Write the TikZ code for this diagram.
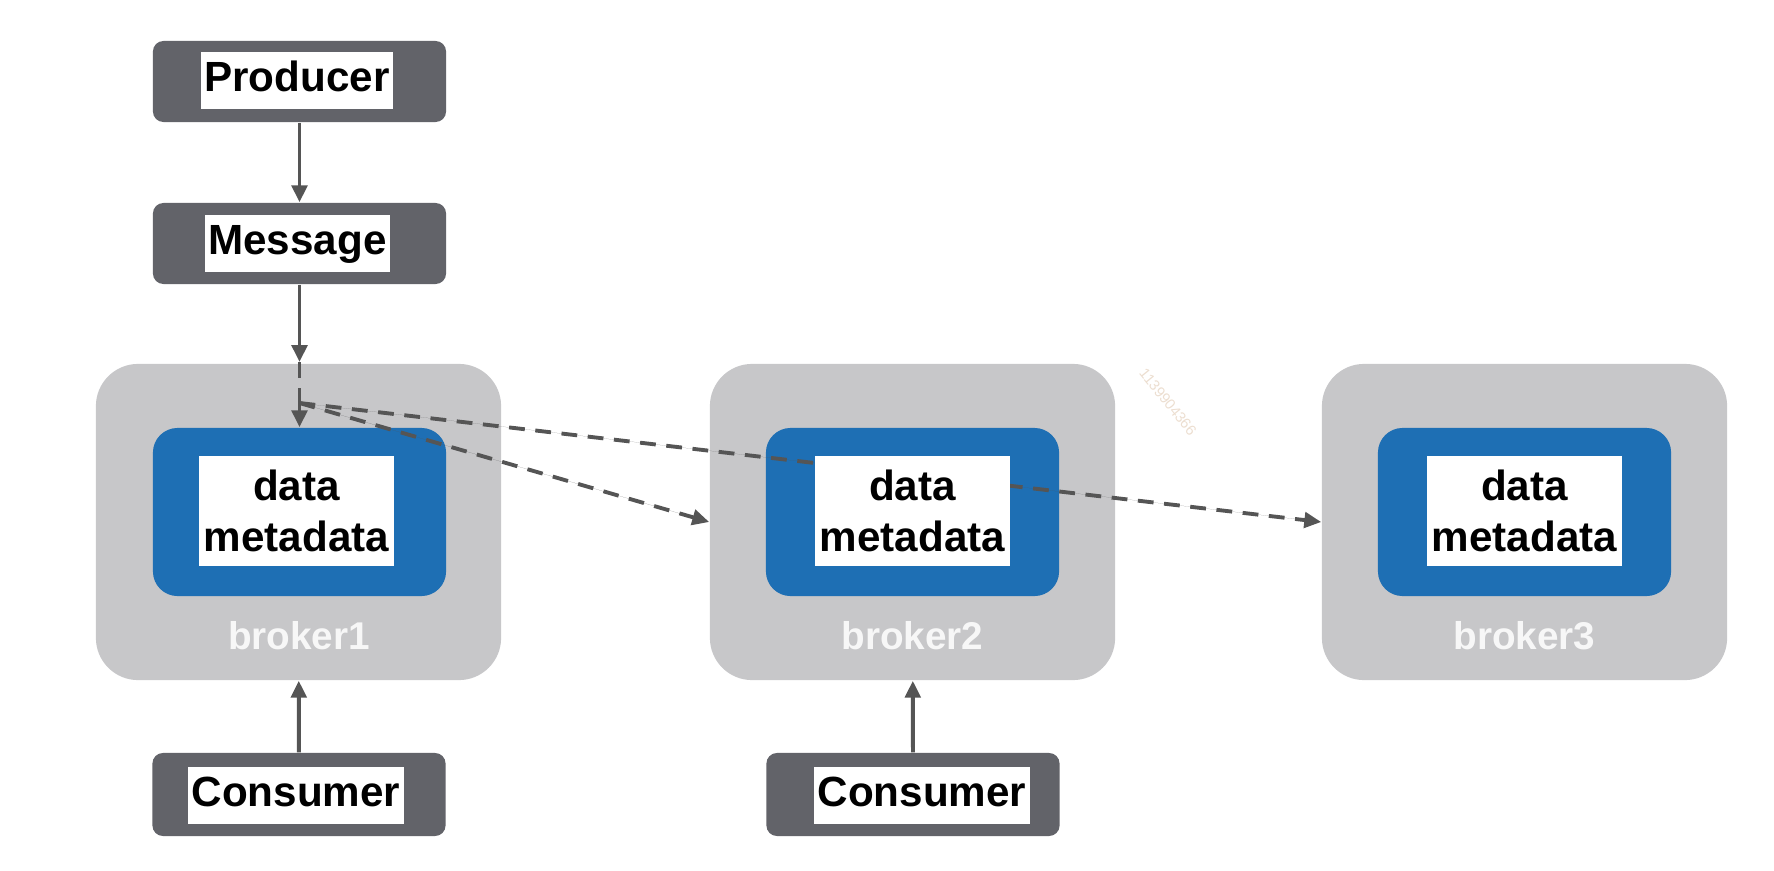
\documentclass[tikz,border=0pt]{standalone}
\usepackage{fontspec}
\setmainfont{Liberation Sans}
\usetikzlibrary{arrows.meta}
\definecolor{boxgrey}{RGB}{98,99,105}
\definecolor{brokergrey}{RGB}{199,199,201}
\definecolor{datablue}{RGB}{30,111,180}
\definecolor{linegrey}{RGB}{85,85,85}
\definecolor{wmark}{RGB}{236,222,208}
\tikzset{
  darkbox/.style={fill=boxgrey,rounded corners=3pt,minimum width=2.93cm,minimum height=0.81cm,inner sep=0pt},
  brokerbox/.style={fill=brokergrey,rounded corners=12pt,minimum width=4.05cm,minimum height=3.16cm,inner sep=0pt},
  databox/.style={fill=datablue,rounded corners=7pt,minimum width=2.93cm,minimum height=1.68cm,inner sep=0pt},
  tag/.style={fill=white,font=\bfseries\fontsize{12}{14}\selectfont,inner xsep=1pt,inner ysep=2.3pt,text height=9pt,text depth=2.6pt},
  datatag/.style={fill=white,font=\bfseries\fontsize{12}{14.7}\selectfont,align=center,minimum width=1.95cm,minimum height=1.09cm,inner sep=1pt},
  brokername/.style={text=white!97!black,font=\bfseries\fontsize{11}{13}\selectfont},
  arr/.style={-{Triangle[length=4.8pt,width=4.4pt]},draw=linegrey,fill=linegrey,line width=1.1pt},
  dasharr/.style={arr,dash pattern=on 4.5pt off 3pt}
}
\begin{document}
\begin{tikzpicture}[x=0.01cm,y=-0.01cm]
  \useasboundingbox (0,0) rectangle (1774,870);
  \node[darkbox] (prod) at (299.5,81.5) {};
  \node[tag] (prodtag) at (297,80.5) {Producer};
  \node[darkbox] (msg) at (299.5,243.5) {};
  \node[tag] (msgtag) at (297.5,243.5) {Message};

  \node[brokerbox] (b1) at (298.5,522) {};
  \node[databox] (b1data) at (299.5,512) {};
  \node[brokername] (b1name) at (299,636) {broker1};

  \node[brokerbox] (b2) at (912.5,522) {};
  \node[databox] (b2data) at (912.5,512) {};
  \node[brokername] (b2name) at (912.5,636) {broker2};

  \node[brokerbox] (b3) at (1524.5,522) {};
  \node[databox] (b3data) at (1524.5,512) {};
  \node[brokername] (b3name) at (1524.5,636) {broker3};

  \node[darkbox,minimum height=0.83cm] (cons1) at (299,794.5) {};
  \node[tag] (cons1tag) at (296,795.5) {Consumer};
  \node[darkbox,minimum height=0.83cm] (cons2) at (913,794.5) {};
  \node[tag] (cons2tag) at (922,795.5) {Consumer};

  \node[text=wmark,font=\fontsize{4.2}{5}\selectfont,rotate=-51] (wm) at (1168,402) {1139904366};

  \coordinate (entry) at (299.5,362);
  \coordinate (split) at (299.5,403);
  \draw[arr] (prod) -- (msg);
  \draw[arr] (msg) -- (entry);
  \draw[linegrey,line width=1.1pt,dash pattern=on 4.5pt off 3pt] (entry) -- (split);
  \draw[dasharr] (split) -- (b1data.north);
  \draw[dasharr] (split) -- (b2.west);
  \draw[dasharr] (split) -- (b3.west);
  \draw[arr] (cons1) -- (b1);
  \draw[arr] (cons2) -- (b2);

  \node[datatag] (b1tag) at (296.5,511) {data\\metadata};
  \node[datatag] (b2tag) at (912.5,511) {data\\metadata};
  \node[datatag] (b3tag) at (1524.5,511) {data\\metadata};
\end{tikzpicture}
\end{document}
